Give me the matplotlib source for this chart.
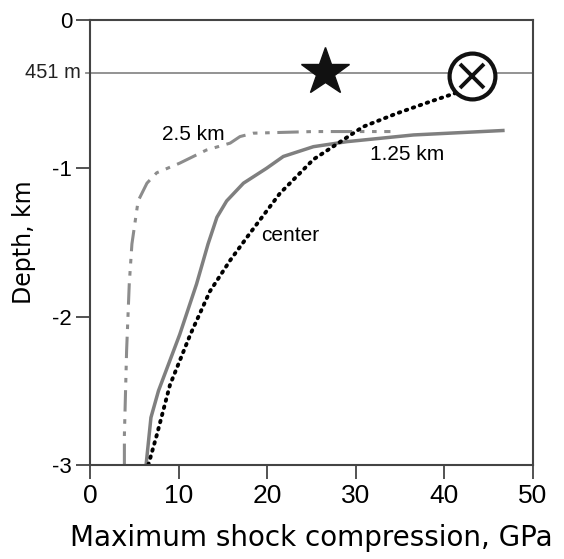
import matplotlib
matplotlib.use("Agg")
import matplotlib.pyplot as plt

plt.rcParams['font.family'] = ['Liberation Sans', 'DejaVu Sans']

# 1.25 km profile (solid)
x_125 = [6.3, 6.85, 7.7, 10.1, 12.0, 13.3, 14.3, 15.4, 17.3, 19.9, 21.8, 25.2, 29.0, 36.5, 46.6]
y_125 = [-3.0, -2.68, -2.50, -2.12, -1.78, -1.51, -1.33, -1.22, -1.10, -1.0, -0.92, -0.854, -0.82, -0.775, -0.745]

# 2.5 km profile (dash-dot-dot)
x_25 = [3.85, 3.85, 4.1, 4.4, 4.7, 5.4, 6.4, 7.5, 10.1, 13.1, 15.8, 16.9, 18.4, 25.2, 33.9]
y_25 = [-3.0, -2.8, -2.23, -1.78, -1.51, -1.22, -1.10, -1.03, -0.965, -0.877, -0.83, -0.786, -0.763, -0.752, -0.752]

# center profile (dotted)
x_c = [6.55, 7.5, 9.0, 11.3, 13.5, 15.8, 18.0, 21.4, 25.2, 27.4, 30.8, 34.6, 38.4, 41.4, 43.3]
y_c = [-3.0, -2.80, -2.46, -2.12, -1.83, -1.62, -1.44, -1.17, -0.94, -0.854, -0.72, -0.63, -0.55, -0.49, -0.46]

surface_depth = -0.357
star_pt = (26.5, -0.35)
cross_pt = (43.1, -0.377)

xticks = [0, 10, 20, 30, 40, 50]
yticks = [0, -1, -2, -3]
ytick_labels = ['0', '-1', '-2', '-3']

fig = plt.figure(figsize=(5.64, 5.59), dpi=100)
ax = fig.add_axes([90.3 / 564, 1 - 465 / 559, 442.7 / 564, 445 / 559])

ax.axhline(surface_depth, color='#8a8a8a', lw=1.3, zorder=1)

ax.plot(x_25, y_25, color='#8c8c8c', lw=2.2, dashes=[7, 2.5, 1.5, 2.5, 1.5, 2.5])
ax.plot(x_125, y_125, color='#7f7f7f', lw=2.5)
ax.plot(x_c, y_c, color='black', lw=2.8, linestyle=(0, (0.4, 1.5)),
        dash_capstyle='round')

ax.plot(*star_pt, marker='*', ms=36, color='#111111', zorder=5)
ax.plot(*cross_pt, marker='o', ms=33, mfc='white', mec='#111111', mew=3, zorder=5)
ax.plot(*cross_pt, marker='x', ms=17, mec='#111111', mew=2.8, zorder=6)

ax.text(11.6, -0.775, '2.5 km', fontsize=15, ha='center', va='center',
        bbox=dict(fc='white', ec='none', pad=0.5))
ax.text(35.8, -0.91, '1.25 km', fontsize=15, ha='center', va='center')
ax.text(22.6, -1.455, 'center', fontsize=15, ha='center', va='center')

ax.set_xlim(0, 50)
ax.set_ylim(-3, 0)
ax.set_xticks(xticks)
ax.set_yticks(yticks)
ax.set_yticklabels(ytick_labels)
ax.tick_params(axis='both', direction='out', length=10, width=1.3, color='#444444')
ax.tick_params(axis='x', labelsize=19, pad=4)
ax.tick_params(axis='y', labelsize=16, pad=3)

# surface marker on the depth axis
ax.plot([-0.5, 0], [surface_depth, surface_depth], color='#8a8a8a', lw=1.3,
        clip_on=False)
ax.text(-1.05, surface_depth, '451 m', fontsize=14.5, ha='right', va='center',
        color='#222222')

for s in ax.spines.values():
    s.set_color('#444444')
    s.set_linewidth(1.5)

ax.set_xlabel('Maximum shock compression, GPa', fontsize=20, labelpad=11,
              family='DejaVu Sans')
ax.set_ylabel('Depth, km', fontsize=17, labelpad=12, family='DejaVu Sans')

fig.savefig('out.png', dpi=100)
